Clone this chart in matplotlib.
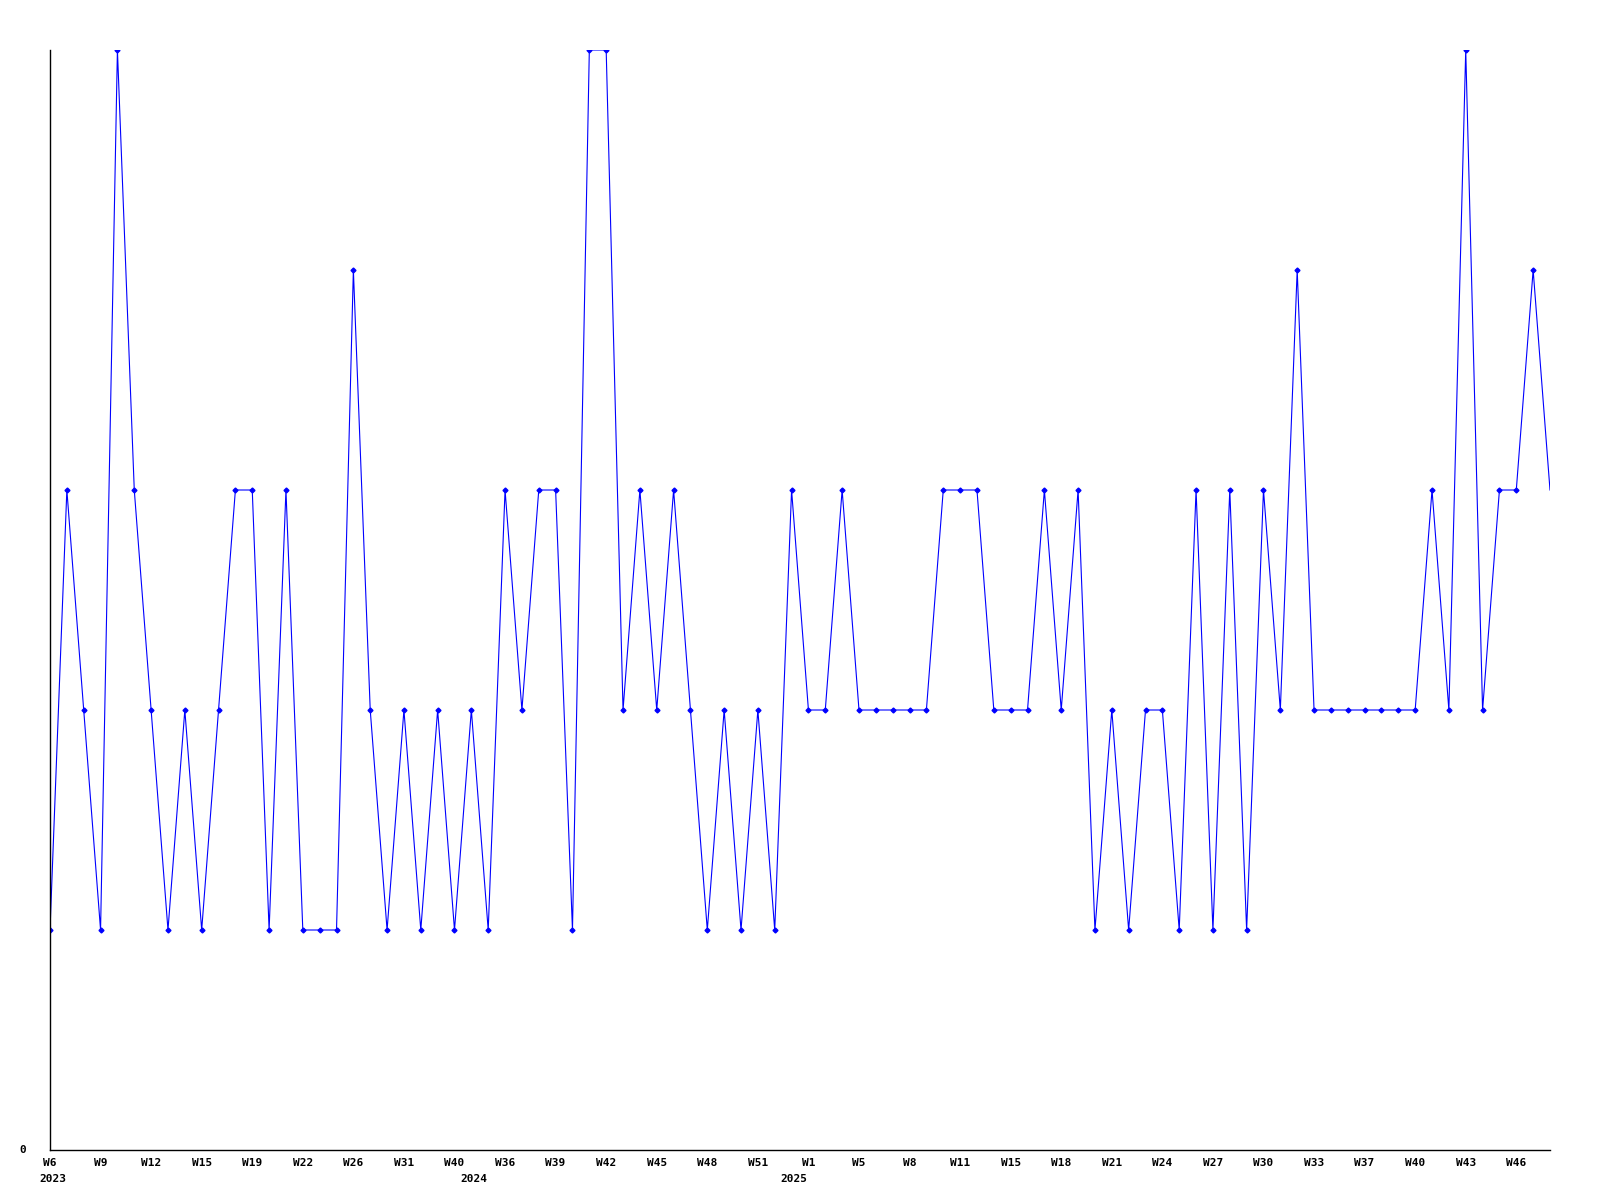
import matplotlib
matplotlib.use("Agg")
import matplotlib.pyplot as plt
import matplotlib.transforms as mtransforms
import numpy as np

# weekly counts, one point per reported week
values = [1, 3, 2, 1, 5, 3, 2, 1, 2, 1,
          2, 3, 3, 1, 3, 1, 1, 1, 4, 2,
          1, 2, 1, 2, 1, 2, 1, 3, 2, 3,
          3, 1, 5, 5, 2, 3, 2, 3, 2, 1,
          2, 1, 2, 1, 3, 2, 2, 3, 2, 2,
          2, 2, 2, 3, 3, 3, 2, 2, 2, 3,
          2, 3, 1, 2, 1, 2, 2, 1, 3, 1,
          3, 1, 3, 2, 4, 2, 2, 2, 2, 2,
          2, 2, 3, 2, 5, 2, 3, 3, 4, 3]

week_ticks = list(range(0, 88, 3))
week_labels = ['W6', 'W9', 'W12', 'W15', 'W19', 'W22', 'W26', 'W31', 'W40', 'W36',
               'W39', 'W42', 'W45', 'W48', 'W51', 'W1', 'W5', 'W8', 'W11', 'W15',
               'W18', 'W21', 'W24', 'W27', 'W30', 'W33', 'W37', 'W40', 'W43', 'W46']
year_pos = [0, 25, 44]
year_labels = ['2023', '2024', '2025']

font = dict(family='DejaVu Sans Mono', fontweight='bold', fontsize=8)

fig = plt.figure(figsize=(16, 12), dpi=100, facecolor='white')
ax = fig.add_axes([50 / 1600, 50 / 1200, 1500 / 1600, 1100 / 1200])

x = np.arange(len(values))
ax.plot(x, values, color='#0000ff', linewidth=0.8,
        marker='D', markersize=2.5, markevery=list(range(len(values) - 1)))

ax.set_xlim(0, len(values) - 1)
ax.set_ylim(0, 5)

for s in ['top', 'right']:
    ax.spines[s].set_visible(False)
for s in ['left', 'bottom']:
    ax.spines[s].set_linewidth(1.0)
    ax.spines[s].set_color('black')

ax.set_yticks([])
ax.text(-0.016, 0, '0', transform=ax.transAxes, ha='right', va='center', **font)

ax.set_xticks(week_ticks)
ax.set_xticklabels(week_labels, **font)
ax.tick_params(axis='x', length=0, pad=6)

trans = mtransforms.blended_transform_factory(ax.transData, ax.transAxes)
for p, yl in zip(year_pos, year_labels):
    ax.text(p + 0.15, -0.022, yl, transform=trans, ha='center', va='top', **font)

fig.savefig('out.png', dpi=100, facecolor='white')
